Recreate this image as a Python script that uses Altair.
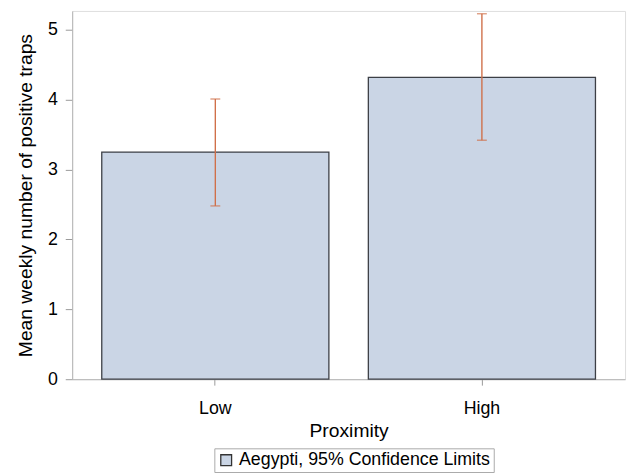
import altair as alt
import pandas as pd

proximity = ["Low", "High"]
means = [3.25, 4.32]
lower = [2.48, 3.42]
upper = [4.01, 5.23]
series = ["Aegypti, 95% Confidence Limits", "Aegypti, 95% Confidence Limits"]

df = pd.DataFrame({"proximity": proximity, "mean": means, "lower": lower,
                   "upper": upper, "series": series})

FONT = "Liberation Sans"
ERR = "#D0704A"

yscale = alt.Scale(domain=[0, 5.27], nice=False)

bars = alt.Chart(df).mark_bar(stroke="#3c3f45", strokeWidth=1.3).encode(
    x=alt.X("proximity:N", sort=proximity, title="Proximity",
            scale=alt.Scale(paddingInner=0.148, paddingOuter=0.111),
            axis=alt.Axis(labelAngle=0, labelPadding=15, titlePadding=4)),
    y=alt.Y("mean:Q", scale=yscale, title="Mean weekly number of positive traps",
            axis=alt.Axis(values=[0, 1, 2, 3, 4, 5], format="d", grid=False,
                          tickSize=7, labelPadding=8, titlePadding=12)),
    color=alt.Color("series:N", scale=alt.Scale(range=["#CAD5E5"]),
                    legend=alt.Legend(title=None, orient="none", legendX=144,
                                      legendY=443, symbolType="square",
                                      symbolSize=120, symbolStrokeColor="#333",
                                      symbolStrokeWidth=1.3, labelLimit=400,
                                      labelFontSize=18, labelFont=FONT,
                                      labelColor="#000", strokeColor="#aaa",
                                      padding=3, fillColor="white")),
)

rules = alt.Chart(df).mark_rule(color=ERR, strokeWidth=1.4).encode(
    x=alt.X("proximity:N", sort=proximity),
    y=alt.Y("lower:Q", scale=yscale),
    y2="upper:Q",
)
caps_lo = alt.Chart(df).mark_tick(color=ERR, thickness=1.4, size=10).encode(
    x=alt.X("proximity:N", sort=proximity),
    y=alt.Y("lower:Q", scale=yscale),
)
caps_hi = alt.Chart(df).mark_tick(color=ERR, thickness=1.4, size=10).encode(
    x=alt.X("proximity:N", sort=proximity),
    y=alt.Y("upper:Q", scale=yscale),
)

chart = alt.layer(bars, rules, caps_lo, caps_hi).properties(
    width=560, height=373,
    autosize=alt.AutoSizeParams(type="none"),
    padding={"left": 65, "top": 0, "right": 4, "bottom": 92},
).configure_view(stroke="#b5b5b5", strokeWidth=1.2).configure(
    font=FONT
).configure_axis(
    labelFontSize=18, titleFontSize=19.5, labelColor="#000", titleColor="#000",
    labelFont=FONT, titleFont=FONT, titleFontWeight="normal",
    tickColor="#999", domainColor="#b5b5b5", tickSize=6,
)

chart.save("out.html", embed_options={"renderer": "svg", "actions": False})
